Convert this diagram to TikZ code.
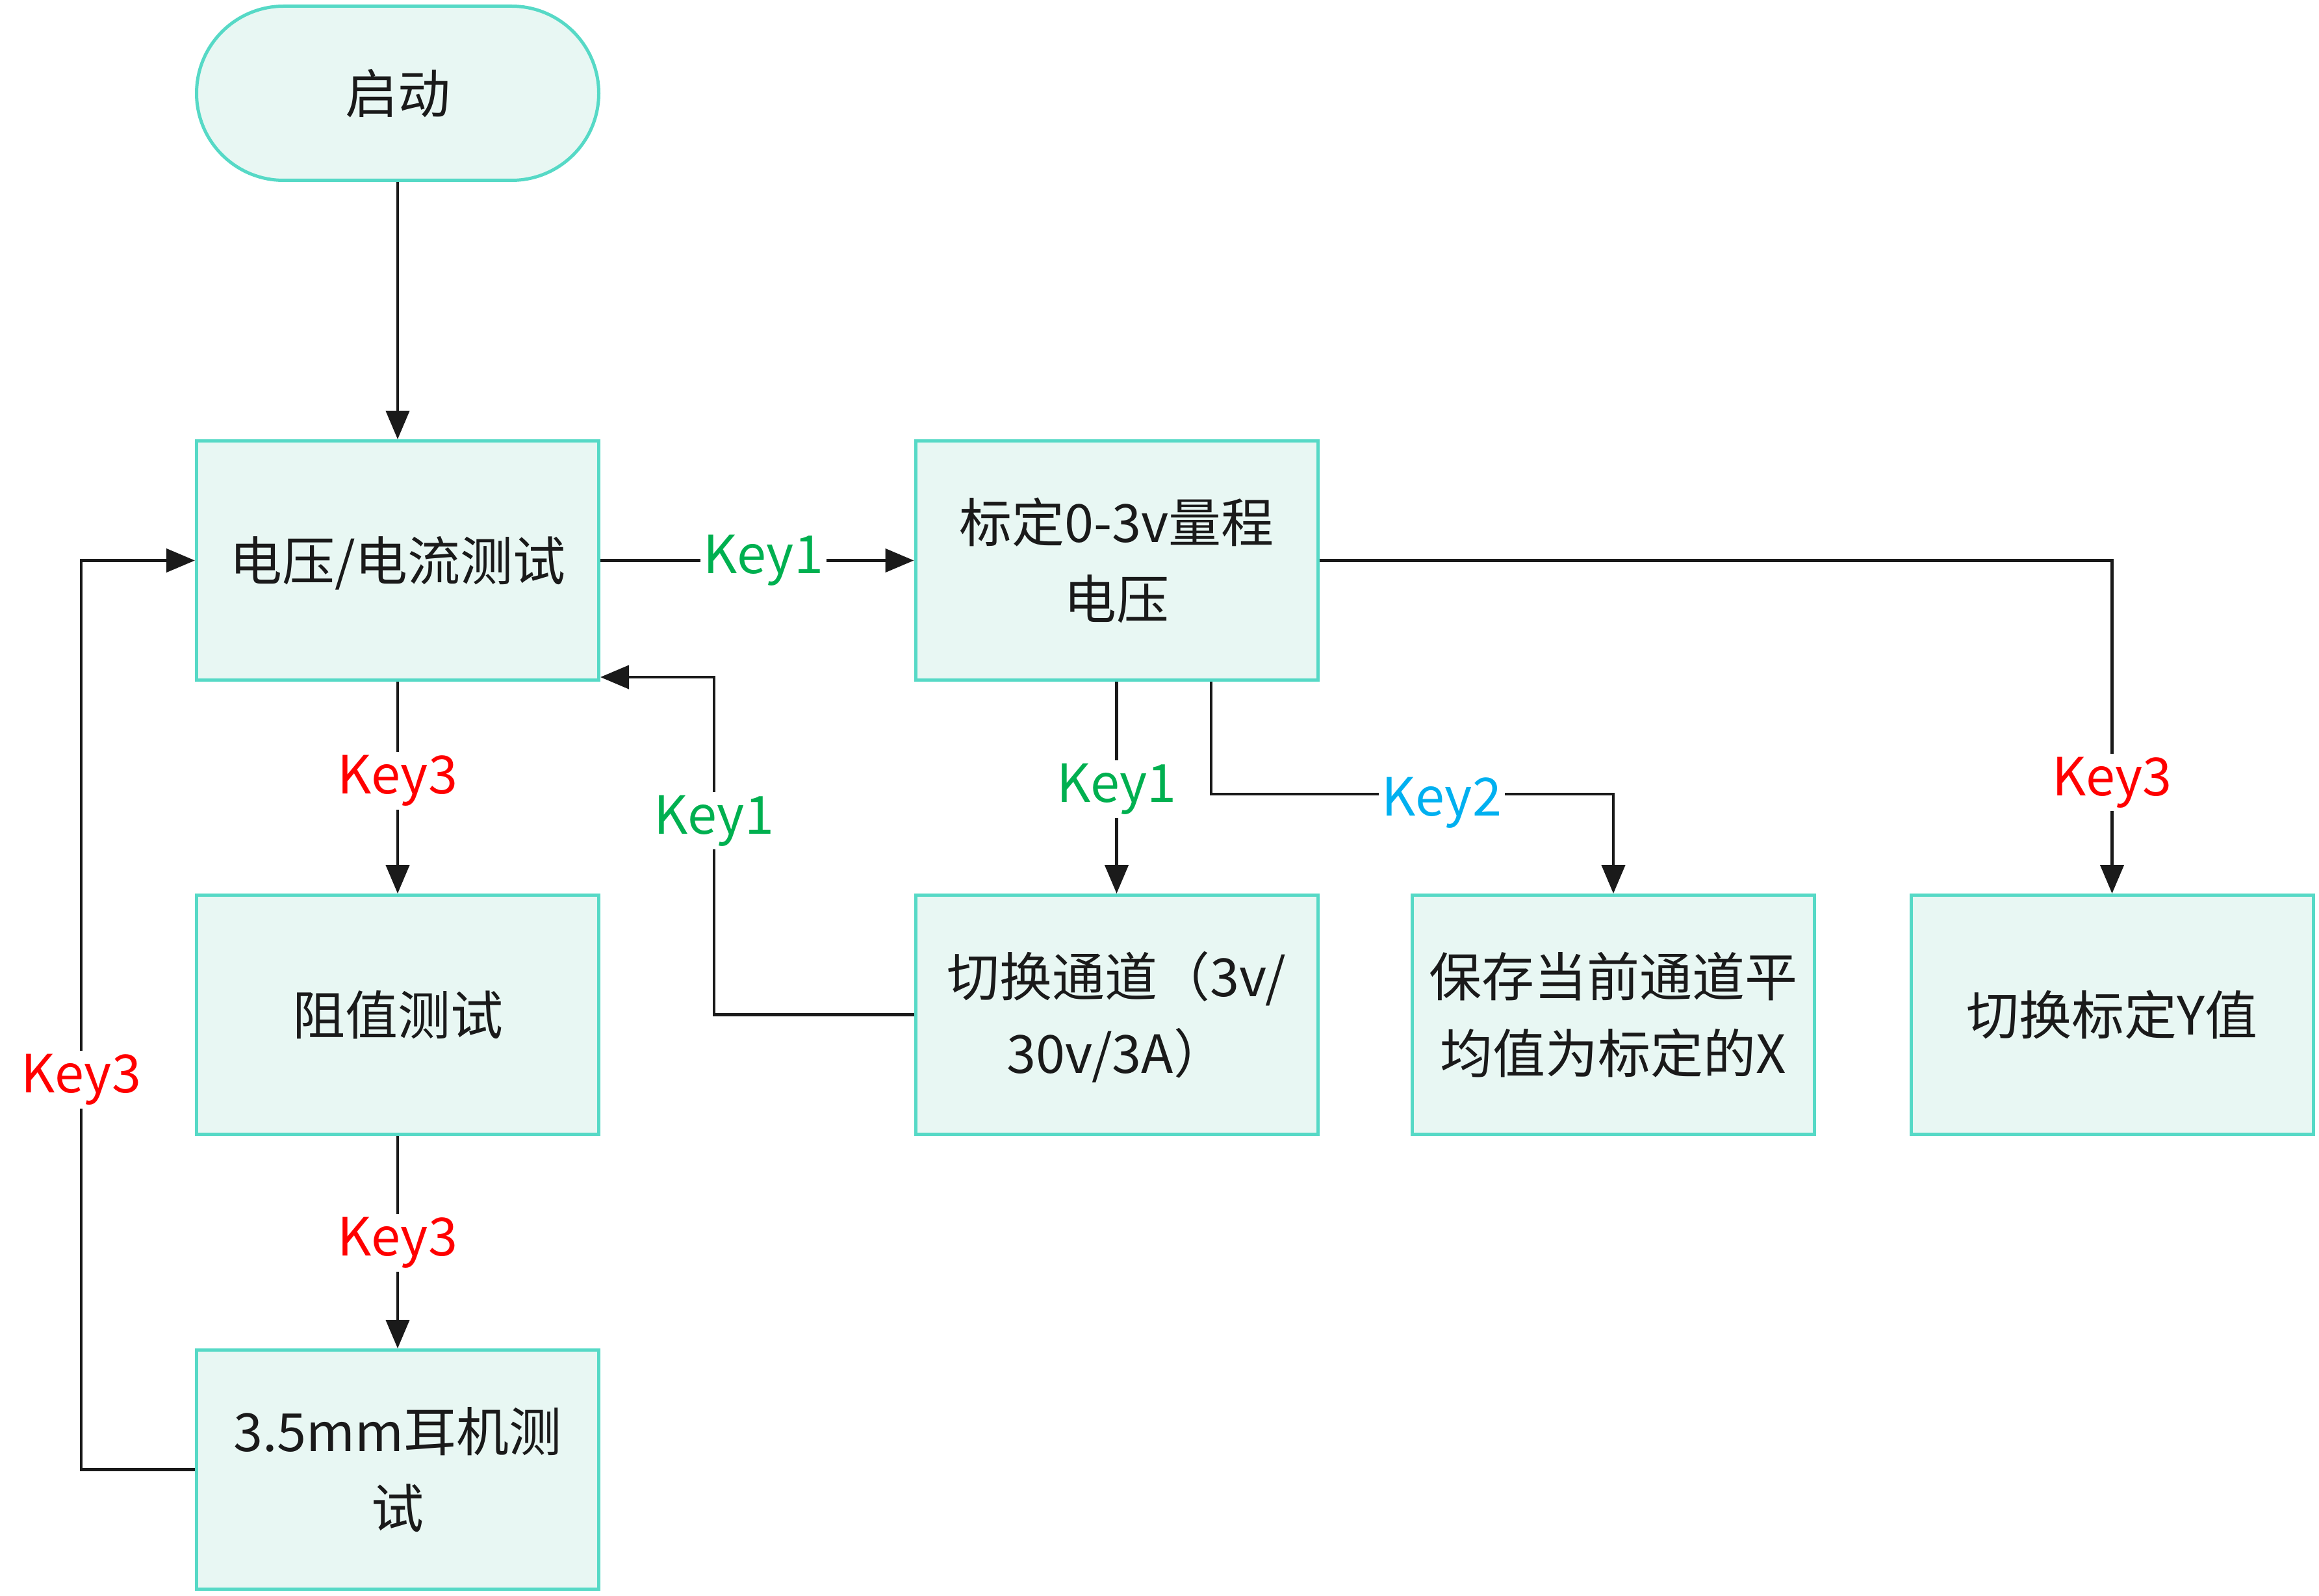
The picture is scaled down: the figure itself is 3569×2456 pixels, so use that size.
\documentclass[tikz,border=0pt]{standalone}
\usepackage{fontspec}
\setmainfont{Noto Sans CJK SC}
\usetikzlibrary{arrows.meta}
\definecolor{bordc}{HTML}{56D9C6}
\definecolor{fillc}{HTML}{E8F7F3}
\definecolor{txtc}{HTML}{1A1A1A}
\definecolor{kgreen}{HTML}{00B050}
\definecolor{kred}{HTML}{FF0000}
\definecolor{kblue}{HTML}{00B0F0}
\newcommand\bxt[1]{\raisebox{-7pt}[\height][\depth]{\begin{tabular}{@{}c@{}}#1\end{tabular}}}
\begin{document}
\begin{tikzpicture}[x=1pt,y=1pt,
 box/.style={draw=bordc, fill=fillc, line width=5pt, minimum width=619pt, minimum height=368pt, align=center, text=txtc, font=\fontsize{81}{118}\selectfont, inner sep=0pt},
 term/.style={box, rounded corners=134pt, minimum height=268pt},
 conn/.style={draw=txtc, line width=4.5pt, -{Triangle[length=44pt,width=36pt]}},
 klab/.style={fill=white, inner sep=5pt, yshift=-9pt, font=\fontsize{81}{100}\selectfont}]
\useasboundingbox (0,0) rectangle (3569,-2456);
\node[term] (s) at (612,-143.5) {\bxt{启动}};
\node[box] (A) at (612,-862.5) {\bxt{电压/电流测试}};
\node[box] (B) at (1718.5,-862.5) {\bxt{标定0-3v量程\\电压}};
\node[box] (C) at (612,-1561.5) {\bxt{阻值测试}};
\node[box] (D) at (612,-2261.5) {\bxt{3.5mm耳机测\\试}};
\node[box] (E) at (1718.5,-1561.5) {\bxt{切换通道（3v/\\30v/3A）}};
\node[box] (F) at (2483,-1561.5) {\bxt{保存当前通道平\\均值为标定的X}};
\node[box] (G) at (3250.5,-1561.5) {\bxt{切换标定Y值}};

\draw[conn] (s) -- (A);
\draw[conn] (A) -- node[klab,text=kgreen,pos=0.52,yshift=9pt] (l1) {Key1} (B);
\draw[conn] (A) -- node[klab,text=kred,pos=0.44] (l2) {Key3} (C);
\draw[conn] (C) -- node[klab,text=kred,pos=0.475] (l3) {Key3} (D);

\coordinate (dl) at (125,-2261.5);
\draw[conn] (D.west) -- (dl) |- (A.west);
\node[klab,text=kred] (l4) at (125,-1652.5) {Key3};

\coordinate (ea) at (1099,-1561.5);
\draw[conn] (E.west) -- (ea) |- ([yshift=7pt]A.south east);
\node[klab,text=kgreen] (l5) at (1099,-1254) {Key1};

\draw[conn] (B.south) -- node[klab,text=kgreen,pos=0.48] (l6) {Key1} (E.north);

\draw[conn] ([xshift=145.5pt]B.south) -- ++(0,-173) coordinate (bf) -| (F.north);
\node[klab,text=kblue] (l7) at (2219,-1226) {Key2};

\draw[conn] (B.east) -| (G.north);
\node[klab,text=kred] (l8) at (3250.5,-1195) {Key3};
\end{tikzpicture}
\end{document}
